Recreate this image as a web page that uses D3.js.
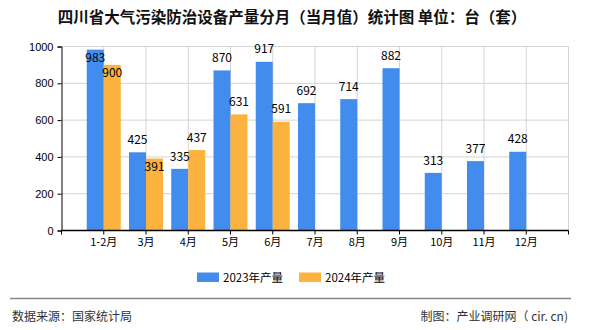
<!DOCTYPE html>
<html><head><meta charset="utf-8">
<script src="https://cdn.jsdelivr.net/npm/d3@7/dist/d3.min.js"></script>
<style>
html,body{margin:0;padding:0;background:#fff;}
svg{display:block;font-family:"Noto Sans CJK SC","Liberation Sans",sans-serif;}
</style></head>
<body>
<svg id="c" width="590" height="330"></svg>
<script>
const categories = ["1-2月","3月","4月","5月","6月","7月","8月","9月","10月","11月","12月"];
const series2023 = [983,425,335,870,917,692,714,882,313,377,428];
const series2024 = [900,391,437,631,591,null,null,null,null,null,null];
const seriesNames = ["2023年产量","2024年产量"];
const yTicks = [0,200,400,600,800,1000];
const colors = ["#418cec","#fbb23e"];

const svg = d3.select("#c");
const L = 61.5, R = 568.5, T = 46.5, B = 230.5;

const x = d3.scalePoint().domain(categories).range([L, R]).padding(1);
const bw = 17;
const y = d3.scaleLinear().domain([0,1000]).range([B, T]);

// title
svg.append("text").attr("x", 292).attr("y", 23).attr("text-anchor","middle")
  .attr("font-size", 15.5).attr("font-weight","bold").attr("fill","#111")
  .text("四川省大气污染防治设备产量分月（当月值）统计图 单位：台（套）");

// horizontal grid
svg.append("g").selectAll("line").data(yTicks.filter(d=>d>0)).join("line")
  .attr("x1", L).attr("x2", R).attr("y1", d=>y(d)).attr("y2", d=>y(d))
  .attr("stroke","#d4d4d4").attr("stroke-width",1);
// vertical grid (category centers + right edge)
const vgrid = categories.map(c=>x(c)).concat([R]);
svg.append("g").selectAll("line").data(vgrid).join("line")
  .attr("x1", d=>d).attr("x2", d=>d).attr("y1", T).attr("y2", B)
  .attr("stroke","#d4d4d4").attr("stroke-width",1);

// bars
const groups = [series2023, series2024];
groups.forEach((vals, si) => {
  svg.append("g").selectAll("rect").data(vals.map((v,i)=>({v, c:categories[i]})).filter(d=>d.v!=null))
    .join("rect")
    .attr("x", d => x(d.c) + (si===0 ? -bw : 0))
    .attr("y", d => y(d.v))
    .attr("width", bw)
    .attr("height", d => B - y(d.v))
    .attr("fill", colors[si]);
});

// labels with simple placement
const lh = 14;
const labelPos = categories.map(()=>({}));
categories.forEach((c,i)=>{
  const v = series2023[i];
  let cy = y(v) - 12.5;
  if (cy < T - 5) cy = y(v) + 8;
  labelPos[i].a = cy;
  const w = series2024[i];
  if (w != null) {
    let cy2 = y(w) - 12.5;
    if (cy2 < T - 5 || Math.abs(cy2 - cy) < lh) cy2 = y(w) + 8;
    labelPos[i].b = cy2;
  }
});
const lg = svg.append("g").attr("font-size", 12).attr("fill","#000").attr("text-anchor","middle");
categories.forEach((c,i)=>{
  lg.append("text").attr("x", x(c) - bw/2).attr("y", labelPos[i].a).attr("dy","0.35em").text(series2023[i]);
  if (series2024[i] != null)
    lg.append("text").attr("x", x(c) + bw/2).attr("y", labelPos[i].b).attr("dy","0.35em").text(series2024[i]);
});

// y axis
const yAxis = d3.axisLeft(y).tickValues(yTicks).tickSize(4).tickPadding(4).tickFormat(d3.format("d"));
const ga = svg.append("g").attr("transform", `translate(${L},0)`).call(yAxis);
ga.select(".domain").attr("stroke","#000");
ga.selectAll(".tick line").attr("stroke","#000");
ga.selectAll("text").attr("font-size", 11).attr("fill","#000").attr("font-family","'Liberation Sans',sans-serif");

// x axis
svg.append("line").attr("x1", L).attr("x2", R).attr("y1", B).attr("y2", B).attr("stroke","#000").attr("stroke-width",1.5);
svg.append("g").selectAll("line").data([L].concat(vgrid)).join("line")
  .attr("x1", d=>d).attr("x2", d=>d).attr("y1", B).attr("y2", B+4).attr("stroke","#000");
svg.append("g").selectAll("text").data(categories).join("text")
  .attr("x", d=>x(d)).attr("y", 246).attr("text-anchor","middle")
  .attr("font-size", 11).attr("fill","#000").text(d=>d);

// legend
const legendItems = [{name:seriesNames[0], color:colors[0], x:197},{name:seriesNames[1], color:colors[1], x:299}];
const leg = svg.append("g");
legendItems.forEach(it=>{
  leg.append("rect").attr("x", it.x).attr("y", 272.5).attr("width", 22).attr("height", 9.5).attr("fill", it.color);
  leg.append("text").attr("x", it.x + 26).attr("y", 277.5).attr("dy","0.35em").attr("font-size", 11.5).attr("fill","#000").text(it.name);
});

// footer
svg.append("line").attr("x1", 10).attr("x2", 571).attr("y1", 298.5).attr("y2", 298.5).attr("stroke","#888").attr("stroke-width",1.5);
svg.append("text").attr("x", 12).attr("y", 321).attr("font-size", 12).attr("fill","#333").text("数据来源：国家统计局");
svg.append("text").attr("x", 568).attr("y", 321).attr("text-anchor","end").attr("font-size", 12).attr("fill","#333").text("制图：产业调研网（ cir. cn)");
</script>
</body></html>
